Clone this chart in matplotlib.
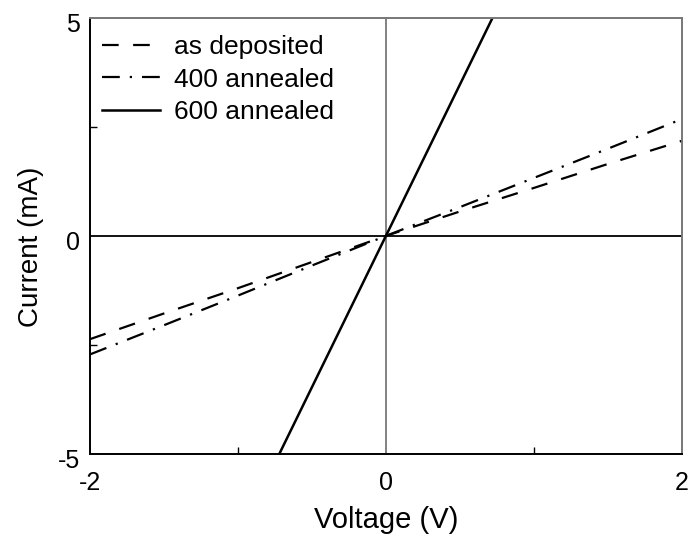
import matplotlib
import matplotlib.pyplot as plt
from matplotlib.transforms import ScaledTranslation

matplotlib.use("Agg")
plt.rcParams["font.family"] = ["Liberation Sans", "DejaVu Sans"]

# I-V data
voltage = [-2.0, -1.5, -1.0, -0.5, 0.0, 0.5, 1.0, 1.5, 2.0]
as_deposited = [-2.37, -1.78, -1.2, -0.6, 0.0, 0.56, 1.1, 1.65, 2.18]
annealed_400 = [-2.72, -2.05, -1.37, -0.68, 0.0, 0.66, 1.33, 2.0, 2.68]
v_600 = [-0.72, 0.0, 0.72]
annealed_600 = [-5.0, 0.0, 5.0]

fig = plt.figure(figsize=(6.91, 5.41), dpi=100)
ax = fig.add_axes([0.130, 0.161, 0.857, 0.806])

ax.axvline(0, color="#777777", lw=1.3, zorder=1)
ax.axhline(0, color="black", lw=1.3, zorder=1)

ax.plot(voltage, as_deposited, color="black", lw=1.6,
        dashes=(7.5, 6.5), label="as deposited")
ax.plot(voltage, annealed_400, color="black", lw=1.6,
        dashes=(8, 4.5, 1, 4.5), label="400 annealed")
ax.plot(v_600, annealed_600, color="black", lw=1.8, label="600 annealed")

ax.set_xlim(-2, 2)
ax.set_ylim(-5, 5)
ax.set_xticks([-2, 0, 2])
ax.set_xticklabels(["-2", "0", "2"])
ax.set_yticks([-5, 0, 5])
ax.set_yticklabels(["-5", "0", "5"])
ax.set_xticks([-1, 1], minor=True)
ax.set_yticks([-2.5, 2.5], minor=True)
ax.tick_params(which="major", length=0, labelsize=18)
ax.tick_params(axis="y", which="major", pad=7)
ax.tick_params(axis="x", which="major", pad=12)
ax.tick_params(which="minor", direction="in", length=5, width=1)

# y tick labels sit a little low in the original
shift = ScaledTranslation(0, -3 / 72, fig.dpi_scale_trans)
for lbl in ax.get_yticklabels():
    lbl.set_transform(lbl.get_transform() + shift)

for s in ["left", "bottom"]:
    ax.spines[s].set_color("black")
    ax.spines[s].set_linewidth(1.4)
for s in ["right", "top"]:
    ax.spines[s].set_color("#777777")
    ax.spines[s].set_linewidth(1.4)

ax.set_xlabel("Voltage (V)", fontsize=21, labelpad=8)
ax.set_ylabel("Current (mA)", fontsize=20)
ax.yaxis.set_label_coords(-0.078, 0.475)

ax.legend(loc="upper left", bbox_to_anchor=(0, 0.988), frameon=False,
          fontsize=19, handlelength=2.2, handletextpad=0.55,
          borderaxespad=0.2, borderpad=0.25, labelspacing=0.33)

fig.savefig("out.png", dpi=100, facecolor="white")
